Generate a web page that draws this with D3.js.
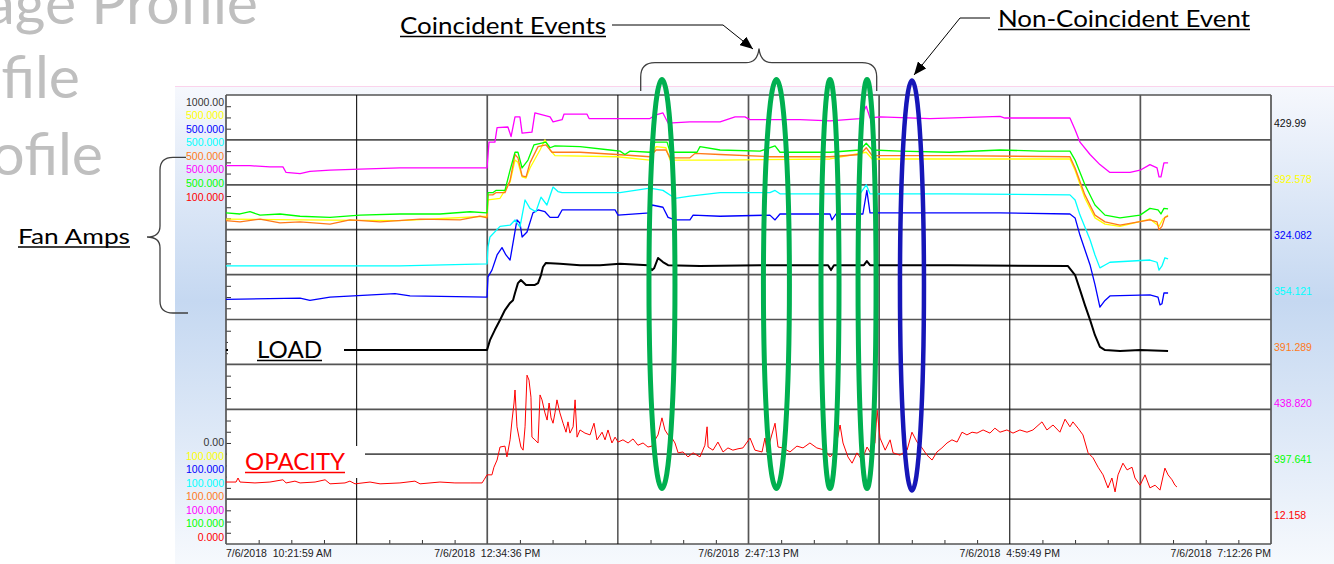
<!DOCTYPE html>
<html><head><meta charset="utf-8">
<script src="https://cdn.jsdelivr.net/npm/d3@7/dist/d3.min.js"></script>
<style>
html,body{margin:0;padding:0;background:#fff;overflow:hidden}
svg{display:block}
text{white-space:pre}
</style></head>
<body><svg id="chart" width="1334" height="564"></svg>
<script>
// ---------------- DATA ----------------
const titleLines = ["age Profile", "file", "ofile"];
const timeLabels = ["7/6/2018  10:21:59 AM", "7/6/2018  12:34:36 PM", "7/6/2018  2:47:13 PM", "7/6/2018  4:59:49 PM", "7/6/2018  7:12:26 PM"];
const totalMinutes = 530.45; // 10:21:59 AM -> 7:12:26 PM

const penNames = ["Load", "Fan 1", "Fan 2", "Fan 3", "Fan 4", "Fan 5", "Fan 6", "Opacity"];
const penColors = ["#000000", "#ffff00", "#0000ff", "#00ffff", "#ff7a1a", "#ff00ff", "#00ff00", "#ff0000"];
const penTopLabels = ["1000.00", "500.000", "500.000", "500.000", "500.000", "500.000", "500.000", "100.000"];
const penBottomLabels = ["0.00", "100.000", "100.000", "100.000", "100.000", "100.000", "100.000", "0.000"];
const penCurrentValues = ["429.99", "392.578", "324.082", "354.121", "391.289", "438.820", "397.641", "12.158"];

// [minutes since 10:21:59, value]
const loadMW = [[0,432],[37.6,432],[88.3,432],[132.5,432],[134,454],[136.5,477],[139.1,499],[141.6,521],[144.2,537],[145.7,543],[146.7,559],[148.2,581],[149.7,588],[152.3,577],[156.8,577],[158.4,581],[159.9,599],[160.9,617],[162.4,626],[169.5,624],[179.7,621],[189.8,621],[200,624],[214.2,621],[216.2,610],[217.3,614],[219.3,637],[221.8,628],[224.4,621],[240.6,619],[271.1,621],[291.4,621],[305.6,621],[307.1,610],[308.6,621],[323.8,621],[325.3,630],[326.9,621],[367.5,621],[427.4,619],[431,599],[433.5,566],[436,532],[438.6,499],[441.1,465],[443.6,439],[446.2,432],[453.8,430],[464,432],[478.2,430]];

const fanYellow = [[0,389.5],[37.6,388.7],[88.3,388],[132.5,392],[133,406.5],[139.1,408],[144.2,422.5],[146.7,442],[148.2,440],[150.3,427],[152.3,426],[154.3,435],[159.4,451],[161.9,460],[164.5,451],[167,446],[198.5,445],[215.2,442],[218.3,454],[223.3,453],[225.4,442],[250.8,442],[306.6,443],[325,449],[328,443],[428.4,443],[431,433],[436,408],[441.1,390.5],[446.2,385],[453.8,383],[469,389.5],[473.6,383],[475.6,389.5],[478.2,393]];

const fanBlue = [[0,318],[37.6,319],[42.6,317],[52.8,320],[85.8,323],[93.4,321],[132.5,320],[133,338],[135,344],[137.6,357.5],[140.1,364],[142.1,357.5],[144.2,353],[147.7,388.7],[149.2,386],[150.3,373.5],[152.8,378],[155.8,395],[158.4,397.6],[161.9,396],[164.5,391],[168.5,391],[170.6,397.6],[197.5,397.6],[199,393],[215.2,395],[216.2,402],[221.8,400],[224.4,391],[227.9,388.7],[235.5,388.7],[237.1,393],[250.8,392],[276.1,393],[278.7,388.7],[281.2,394],[306.6,394],[307.6,388.7],[309.6,394],[323.3,394],[325.3,415],[326.9,395],[392.9,395],[428.4,394],[431,390.5],[433.5,375],[438.6,348.6],[441.1,331],[443.6,311],[446.2,317],[448.7,321],[469,322],[473.1,320],[474.1,313],[475.1,314],[476.1,323.6],[478.2,323.6]];

const fanCyan = [[0,347.7],[37.6,347.7],[88.3,347.7],[132.5,349.5],[133,364.6],[134,373.5],[139.1,383],[144.2,384],[146.7,388.7],[149.2,382.4],[151.8,406.5],[154.3,399],[157.3,396],[159.9,409],[162.9,402],[166,418],[168.5,414],[170.6,413],[200,413],[215.2,417],[221.8,415],[227.9,408],[235.5,410],[250.8,413],[276.1,413],[278.7,415],[281.2,412],[321.8,412],[325,420],[326.9,412],[367.5,412],[428.4,411],[431,406.5],[433.5,393],[438.6,371],[441.1,357.5],[443.6,346],[446.2,348.6],[448.7,351],[469,353],[472.6,351],[473.6,344],[475.1,347.7],[476.6,355],[478.2,354]];

const fanOrange = [[0,388],[7.1,387],[17.3,389.5],[27.4,386],[37.6,387],[52.8,385],[62.9,388.7],[78.2,387],[98.5,389.5],[118.8,388.7],[128.9,392],[132.5,390.5],[133,411],[135.4,411],[137,413],[141.6,413],[144.2,424],[146.7,447],[148.2,444],[150.3,428],[152.3,427],[154.3,439.5],[158.4,454],[162.4,455.5],[165.5,449],[179.7,449],[198.5,447],[215.2,445],[218.3,451],[223.3,451],[225.4,444],[235.5,444],[238.1,448],[250.8,447],[276.1,445],[306.6,445],[321.8,447],[325,453],[328,446],[367.5,446],[428.4,445],[431,435],[436,411],[441.1,393],[446.2,387],[453.8,384],[469,388.7],[472.6,387],[473.6,380],[475.1,383],[476.6,391],[478.2,392]];

const fanMagenta = [[0,437],[12.2,437],[22.3,436],[28.9,436],[30.5,431],[37.6,430],[42.6,432],[52.8,433],[68,434],[88.3,435],[108.6,435],[132.5,435],[133.5,458],[136.5,458],[137.6,471],[143.1,471.5],[144.7,463],[146.7,480.5],[149.2,480.5],[150.3,466],[155.3,467],[156.8,484],[164.5,480.5],[166,476],[170.6,478],[171.6,483],[183.2,483],[184.3,479],[215.2,479],[217.8,482],[221.8,484],[224.4,475],[235.5,476],[250.8,476],[258.4,480.5],[263.4,480.5],[266,478],[291.4,478],[306.6,477],[321.8,479],[325,490],[326.9,479.5],[332,480.5],[357.4,479],[385.3,480.5],[392.9,481],[395.4,479.5],[428.4,479.5],[431,469],[433.5,458],[438.6,447],[443.6,438],[448.7,431],[458.9,431],[464,433],[469,438],[472.6,435],[473.6,427],[474.6,427],[476.1,439.5],[478.2,439.5]];

const fanGreen = [[0,395],[7.1,394],[12.2,396],[17.3,393],[27.4,394],[37.6,392],[52.8,391],[68,393],[88.3,394],[108.6,394],[123.9,396],[132.5,395],[133,413],[135.4,413],[137,415],[141.6,415],[144.2,433],[146.7,449],[148.2,449],[150.3,435],[153.3,442],[156.3,455.5],[162.4,458],[164.5,453],[167,454.6],[179.7,454],[194.9,451],[200,450],[202.5,447],[205.1,450],[215.2,449],[217.8,458],[223.9,458],[225.4,449],[239.1,449],[240.6,454],[250.8,451],[271.1,450],[278.7,454.6],[281.2,449],[306.6,449],[321.8,451],[325,457],[328,451],[342.1,450],[367.5,449],[392.9,451],[413.2,450],[428.4,450],[431,442],[436,420],[441.1,402],[446.2,393],[453.8,390.5],[464,393],[469,399],[473.1,397.6],[474.6,394],[476.1,399],[478.2,398.5]];

const opacityPct = [[0,13.8],[5.1,13.8],[6.1,14.7],[7.1,13.8],[14.7,13.6],[22.3,13.8],[28.9,14.3],[30.5,13.6],[35,14],[37.6,13.6],[45.2,13.8],[50.3,14.3],[52.8,13.4],[60.4,13.6],[62.9,14],[65.5,13.4],[73.1,13.8],[78.2,13.4],[88.3,13.6],[95.9,14],[98.5,13.4],[108.6,13.8],[116.2,13.6],[123.9,13.6],[130,13.6],[131,14.3],
[132.5,15.4],[135,15.4],[136,17.1],[137.6,18.7],[139.1,21.6],[141.6,21.8],[142.6,19.4],[144.2,23.2],[145.2,27.6],[146.2,31.4],[146.7,34.3],[147.7,26.1],[148.7,23.8],[149.7,21.6],[150.8,20.9],[151.8,26.1],[152.8,37.6],[153.8,36.5],[154.8,32.7],[155.3,23.8],[156.8,23.2],[158.4,22.5],[159.4,33.2],[160.4,32.1],[161.9,29.2],[163,27.6],[164,31.4],[165,28.1],[166,26.9],[167,29.2],[168,32.1],[169.5,29.2],[171.1,26.9],[172.6,24.9],[173.6,27.2],[174.6,24.7],[176.2,26.1],[177.2,32.1],[178.2,23.8],[179.7,25.4],[182.2,24.7],[184.8,24.3],[186.8,26.9],[188.3,23.2],[190.9,24.9],[192.4,23.2],[193.9,25.4],[195.9,22.5],[197.5,23.8],[199,22.7],[201.5,23.2],[204.1,22.5],[206.6,23.4],[209.1,22],[211.7,22.5],[214.2,21.6],[216.2,21.8],[217.8,23.2],[219.3,24.3],[221.3,28.1],[222.8,25.4],[224.4,24.3],[226.4,23.6],[227.9,22.5],[229.5,20.3],[232,20.5],[234.5,19.4],[237.1,20.3],[240.6,19.4],[243.1,22],[244.2,26.1],[244.7,21.6],[247.2,20.9],[249.7,22.7],[252.3,20.5],[254.8,21.4],[257.3,20.9],[259.9,21.2],[262.4,21.4],[266,23.6],[268.5,20.9],[272.1,20.5],[273.6,23.6],[274.6,20.5],[278.7,26.9],[280.2,21.6],[282.7,21.4],[286.3,20.5],[289.8,21.8],[292.9,21.4],[296.4,22.5],[299.9,21.4],[304,20.9],[306.6,19.4],[309.1,20.5],[311.7,26.5],[313.2,22.5],[315.7,19.4],[317.8,18],[320.3,20.3],[322.8,18.7],[325.4,21.6],[326.9,20.5],[329.4,22.5],[330.5,29.8],[332,23.6],[334.6,20.9],[337.1,23.2],[338.6,20.3],[342.1,19.8],[345.7,20.9],[348.2,24.9],[350.8,22.7],[353.3,21.4],[355.8,19.8],[358.4,18.7],[360.9,20.5],[363.4,21.4],[366,22.5],[368.5,23.2],[371.1,22.7],[373.6,24.9],[376.1,24.3],[378.7,24.9],[381.2,24.7],[384.3,25.4],[387.8,24.7],[390.3,25.8],[392.9,24.9],[396.4,25.4],[399.5,24.7],[403,25.4],[406.6,24.9],[409.6,25.4],[414.2,27.2],[416.7,25.4],[419.8,26.5],[423.3,24.9],[425.9,27.8],[428.4,26.1],[429.9,27.2],[432.5,25.8],[435,24.3],[437.6,20.3],[440.1,19.2],[442.7,17.1],[445.2,15.4],[447.7,12.5],[449.7,14.7],[451.3,11.6],[452.8,15.4],[455.3,18],[457.4,16.5],[459.9,17.1],[461.4,14.7],[464,13.1],[466.5,15.4],[469,12.5],[471.6,13.1],[474.1,12],[476.6,16.9],[478.2,15.4],[480.2,14.3],[481.7,13.1],[482.7,12.7]];

// event annotations (minutes)
const coincidentEvents = [221.3, 279.4, 306.6, 325.4];
const nonCoincidentEvents = [348.2];
const annotationTexts = ["Coincident Events", "Non-Coincident Event", "Fan Amps", "LOAD", "OPACITY"];

// ---------------- LAYOUT ----------------
const P = {left: 226, right: 1271, top: 95, bottom: 544};
const svg = d3.select("#chart");
const defs = svg.append("defs");

const grad = defs.append("linearGradient").attr("id", "panelGrad").attr("x1", 0).attr("y1", 0).attr("x2", 0).attr("y2", 1);
grad.append("stop").attr("offset", "0%").attr("stop-color", "#f6f8fd");
grad.append("stop").attr("offset", "45%").attr("stop-color", "#c5d8f1");
grad.append("stop").attr("offset", "100%").attr("stop-color", "#f6f9fd");

defs.append("marker").attr("id", "arrow").attr("viewBox", "0 0 12 10").attr("refX", 12).attr("refY", 5)
  .attr("markerWidth", 13).attr("markerHeight", 11).attr("markerUnits", "userSpaceOnUse").attr("orient", "auto")
  .append("path").attr("d", "M0,0 L12,5 L0,10 Z").attr("fill", "#000");

// scales
const x = d3.scaleLinear().domain([0, totalMinutes]).range([P.left, P.right]);
const yLoad = d3.scaleLinear().domain([0, 1000]).range([P.bottom, P.top]);
const yAmps = d3.scaleLinear().domain([100, 500]).range([P.bottom, P.top]);
const yOpac = d3.scaleLinear().domain([0, 100]).range([P.bottom, P.top]);
const yDiv = d3.scaleLinear().domain([0, 10]).range([P.bottom, P.top]);
const xDiv = d3.scaleLinear().domain([0, 8]).range([P.left, P.right]);

// title text (background, partly off-canvas as in the slide)
const titleG = svg.append("g");
const titleEnds = [258, 80, 103], titleBase = [24, 98, 175];
titleLines.forEach((t, i) => {
  titleG.append("text").attr("x", titleEnds[i]).attr("y", titleBase[i]).attr("text-anchor", "end")
    .attr("font-family", "Lato, 'Open Sans', sans-serif").attr("font-size", 59).attr("fill", "#bfbfbf").text(t);
});

// panel
svg.append("rect").attr("x", 175).attr("y", 86).attr("width", 1159).attr("height", 478).attr("fill", "url(#panelGrad)");
svg.append("line").attr("x1", 175).attr("x2", 1334).attr("y1", 86.5).attr("y2", 86.5).attr("stroke", "#fbd3ec").attr("stroke-width", 1);
svg.append("rect").attr("x", P.left).attr("y", P.top).attr("width", P.right - P.left).attr("height", P.bottom - P.top).attr("fill", "#fff");

// minor ticks
const leftMinor = d3.range(0, 10.001, 0.25).filter(v => Math.abs(v - Math.round(v)) > 0.01);
svg.append("g").attr("transform", `translate(${P.left},0)`)
  .call(d3.axisRight(yDiv).tickValues(leftMinor).tickSize(5).tickFormat(""))
  .call(g => { g.select(".domain").remove(); g.selectAll("line").attr("stroke", "#333"); });
const bottomMinor = d3.range(0, 8.001, 0.25).filter(v => Math.abs(v - Math.round(v)) > 0.01);
svg.append("g").attr("transform", `translate(0,${P.bottom})`)
  .call(d3.axisTop(xDiv).tickValues(bottomMinor).tickSize(4).tickFormat(""))
  .call(g => { g.select(".domain").remove(); g.selectAll("line").attr("stroke", "#333"); });

// grid
const gridG = svg.append("g");
gridG.selectAll("line.h").data(d3.range(0, 11)).join("line").attr("class", "h")
  .attr("x1", P.left).attr("x2", P.right).attr("y1", d => yDiv(d)).attr("y2", d => yDiv(d))
  .attr("stroke", "#555").attr("stroke-width", 1.7);
gridG.selectAll("line.v").data(d3.range(0, 9)).join("line").attr("class", "v")
  .attr("x1", d => xDiv(d)).attr("x2", d => xDiv(d)).attr("y1", P.top).attr("y2", P.bottom)
  .attr("stroke", d => (d === 1 || d === 3 || d === 6) ? "#111" : "#555")
  .attr("stroke-width", d => (d === 1 || d === 3 || d === 6) ? 1.1 : 1.7);

// series
const series = [
  {data: opacityPct, scale: yOpac, color: penColors[7], w: 1},
  {data: fanBlue, scale: yAmps, color: penColors[2], w: 1.3},
  {data: fanCyan, scale: yAmps, color: penColors[3], w: 1.3},
  {data: fanYellow, scale: yAmps, color: penColors[1], w: 1.3},
  {data: fanOrange, scale: yAmps, color: penColors[4], w: 1.3},
  {data: fanGreen, scale: yAmps, color: penColors[6], w: 1.3},
  {data: fanMagenta, scale: yAmps, color: penColors[5], w: 1.3},
  {data: loadMW, scale: yLoad, color: penColors[0], w: 2}
];
const seriesG = svg.append("g");
series.forEach(s => {
  const line = d3.line().x(d => x(d[0])).y(d => s.scale(d[1]));
  seriesG.append("path").datum(s.data).attr("d", line).attr("fill", "none")
    .attr("stroke", s.color).attr("stroke-width", s.w).attr("stroke-linejoin", "round");
});

// axis labels
const axisFont = "'Liberation Sans', Arial, sans-serif";
const labG = svg.append("g").attr("font-family", axisFont).attr("font-size", 10.5);
labG.selectAll("text.top").data(penTopLabels).join("text").attr("class", "top")
  .attr("x", 224).attr("y", (d, i) => 105.8 + i * 13.53).attr("text-anchor", "end")
  .attr("fill", (d, i) => i === 0 ? "#333" : penColors[i]).text(d => d);
labG.selectAll("text.bot").data(penBottomLabels).join("text").attr("class", "bot")
  .attr("x", 224).attr("y", (d, i) => 446 + i * 13.57).attr("text-anchor", "end")
  .attr("fill", (d, i) => i === 0 ? "#333" : penColors[i]).text(d => d);
labG.selectAll("text.cur").data(penCurrentValues).join("text").attr("class", "cur")
  .attr("x", 1274).attr("y", (d, i) => 126.8 + i * 56)
  .attr("fill", (d, i) => i === 0 ? "#111" : penColors[i]).text(d => d);
labG.selectAll("text.time").data(timeLabels).join("text").attr("class", "time")
  .attr("x", (d, i) => i === 0 ? P.left : i === timeLabels.length - 1 ? P.right : xDiv(i * 2))
  .attr("y", 557)
  .attr("text-anchor", (d, i) => i === 0 ? "start" : i === timeLabels.length - 1 ? "end" : "middle")
  .attr("fill", "#222").text(d => d);

// label boxes covering the chart
svg.append("rect").attr("x", 228).attr("y", 336).attr("width", 116).attr("height", 24).attr("fill", "#fff");
svg.append("rect").attr("x", 227).attr("y", 446).attr("width", 138).attr("height", 32).attr("fill", "#fff");

// annotation text helper
const annFont = "Lato, 'Open Sans', sans-serif";
function annText(t, x0, base, width, size, color) {
  svg.append("text").attr("x", x0).attr("y", base).attr("font-family", annFont).attr("font-size", size)
    .attr("fill", color).attr("textLength", width).attr("lengthAdjust", "spacingAndGlyphs").text(t);
  svg.append("line").attr("x1", x0).attr("x2", x0 + width).attr("y1", base + 3).attr("y2", base + 3)
    .attr("stroke", color).attr("stroke-width", 1.6);
}
annText(annotationTexts[0], 400, 33.5, 206, 23, "#000");
annText(annotationTexts[1], 998, 26.5, 252, 23, "#000");
annText(annotationTexts[2], 18, 244, 112, 22, "#000");
annText(annotationTexts[3], 257, 357.5, 65, 24, "#000");
annText(annotationTexts[4], 245, 469.5, 100, 24, "#ff0000");

// braces & arrows
svg.append("path").attr("d", "M640.7,91 L640.7,77 Q640.7,62.7 655,62.7 L746,62.7 Q757.5,62.7 759,48.5 Q760.5,62.7 772,62.7 L862,62.7 Q876.7,62.7 876.7,77 L876.7,91")
  .attr("fill", "none").attr("stroke", "#404040").attr("stroke-width", 1.3);
svg.append("path").attr("d", "M186,157.3 L173,157.3 Q160,157.3 160,170 L160,226 Q160,237 147,237 Q160,237 160,248 L160,301 Q160,313 173,313 L188,313")
  .attr("fill", "none").attr("stroke", "#404040").attr("stroke-width", 1.3);
svg.append("path").attr("d", "M612,25 L723,25 L753,49").attr("fill", "none").attr("stroke", "#000").attr("stroke-width", 1).attr("marker-end", "url(#arrow)");
svg.append("path").attr("d", "M990,18 L960,18 L914,75").attr("fill", "none").attr("stroke", "#000").attr("stroke-width", 1).attr("marker-end", "url(#arrow)");

// event ellipses
const ellG = svg.append("g").attr("fill", "none");
const coincRx = [13, 13, 9, 9];
ellG.selectAll("ellipse.c").data(coincidentEvents).join("ellipse").attr("class", "c")
  .attr("cx", d => x(d)).attr("cy", 284).attr("rx", (d, i) => coincRx[i]).attr("ry", 204.5)
  .attr("stroke", "#00b050").attr("stroke-width", 5);
ellG.selectAll("ellipse.n").data(nonCoincidentEvents).join("ellipse").attr("class", "n")
  .attr("cx", d => x(d)).attr("cy", 285.5).attr("rx", 12).attr("ry", 205)
  .attr("stroke", "#1616b8").attr("stroke-width", 4.5);
</script></body></html>
